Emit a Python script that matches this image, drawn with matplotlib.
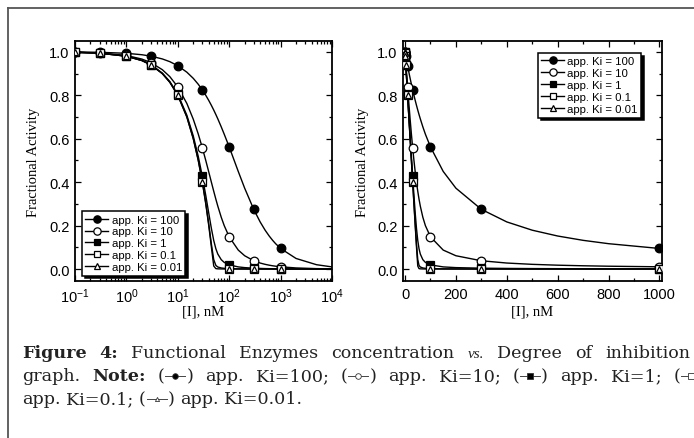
import matplotlib
matplotlib.use("Agg")
import matplotlib.pyplot as plt
from matplotlib.lines import Line2D
from matplotlib.ticker import MultipleLocator, LogLocator, NullFormatter

# ---------------- data ----------------
ki_labels = ["app. Ki = 100", "app. Ki = 10", "app. Ki = 1", "app. Ki = 0.1", "app. Ki = 0.01"]

# measured points
conc = [0.1, 0.3, 1, 3, 10, 30, 100, 300, 1000]
act_ki100 = [1.00, 1.00, 0.993, 0.98, 0.936, 0.825, 0.562, 0.275, 0.095]
act_ki10 = [1.00, 0.995, 0.985, 0.95, 0.84, 0.558, 0.148, 0.038, 0.010]
act_ki1 = [1.00, 0.995, 0.98, 0.941, 0.805, 0.427, 0.019, 0.004, 0.001]
act_ki01 = [1.00, 0.994, 0.98, 0.94, 0.80, 0.403, 0.002, 0.000, 0.000]
act_ki001 = [1.00, 0.994, 0.98, 0.94, 0.80, 0.400, 0.000, 0.000, 0.000]

# fitted curves
curve_conc = [0.1, 0.3, 1, 2, 3, 5, 7, 10, 15, 20, 25, 30, 35, 40, 45, 50, 55, 60,
              70, 80, 100, 150, 200, 300, 400, 500, 600, 700, 800, 1000, 2000, 5000, 10000]
curve_ki100 = [0.9993, 0.998, 0.9934, 0.9868, 0.9803, 0.9674, 0.9548, 0.9362, 0.9064,
               0.8780, 0.8508, 0.8248, 0.8000, 0.7763, 0.7537, 0.7321, 0.7114, 0.6917,
               0.6547, 0.6209, 0.5623, 0.4495, 0.3723, 0.2749, 0.2170, 0.1789, 0.1521,
               0.1322, 0.1168, 0.0948, 0.0487, 0.0200, 0.0099]
curve_ki10 = [0.9983, 0.9950, 0.9834, 0.9668, 0.9504, 0.9179, 0.8858, 0.8385, 0.7624,
              0.6899, 0.6217, 0.5583, 0.5000, 0.4472, 0.4000, 0.3583, 0.3217, 0.2899,
              0.2385, 0.2000, 0.1483, 0.0874, 0.0613, 0.0382, 0.0277, 0.0217, 0.0178,
              0.0151, 0.0131, 0.0104, 0.0051, 0.0020, 0.0010]
curve_ki1 = [0.9980, 0.9941, 0.9804, 0.9608, 0.9413, 0.9022, 0.8632, 0.8049, 0.7082,
             0.6127, 0.5186, 0.4268, 0.3390, 0.2576, 0.1870, 0.1318, 0.0936, 0.0692,
             0.0432, 0.0307, 0.0192, 0.0099, 0.0066, 0.0040, 0.0029, 0.0022, 0.0018,
             0.0015, 0.0013, 0.0011, 0.0005, 0.0002, 0.0001]
curve_ki01 = [0.998, 0.994, 0.980, 0.960, 0.940, 0.900, 0.860, 0.8005, 0.7009,
              0.6013, 0.5020, 0.4030, 0.3046, 0.2076, 0.1153, 0.0437, 0.0168, 0.0095,
              0.0050, 0.0033, 0.0020, 0.0010, 0.0007, 0.0004, 0.0003, 0.0002, 0.0002,
              0.0001, 0.0001, 0.0001, 0.0, 0.0, 0.0]
curve_ki001 = [0.998, 0.994, 0.980, 0.960, 0.940, 0.900, 0.860, 0.800, 0.700,
               0.600, 0.500, 0.400, 0.300, 0.2005, 0.1018, 0.0141, 0.0020, 0.0010,
               0.0005, 0.0003, 0.0002, 0.0001, 0.0001, 0.0, 0.0, 0.0, 0.0,
               0.0, 0.0, 0.0, 0.0, 0.0, 0.0]

log_xticks = [0.1, 1, 10, 100, 1000, 10000]
lin_xticks = [0, 200, 400, 600, 800, 1000]
yticks = [0.0, 0.2, 0.4, 0.6, 0.8, 1.0]

point_sets = [act_ki100, act_ki10, act_ki1, act_ki01, act_ki001]
curve_sets = [curve_ki100, curve_ki10, curve_ki1, curve_ki01, curve_ki001]

# ---------------- styling ----------------
W, H = 694, 439
plt.rcParams["font.family"] = ["Liberation Sans", "DejaVu Sans"]
plt.rcParams["mathtext.default"] = "regular"

fig = plt.figure(figsize=(W / 100, H / 100), dpi=100)
fig.patch.set_facecolor("white")

marker_styles = [
    dict(marker="o", mfc="black", mec="black", ms=6.2),
    dict(marker="o", mfc="white", mec="black", ms=6.2),
    dict(marker="s", mfc="black", mec="black", ms=5.8),
    dict(marker="s", mfc="white", mec="black", ms=5.8),
    dict(marker="^", mfc="white", mec="black", ms=4.6),
]
legend_marker_scale = 0.85


def px_axes(left, top, right, bottom):
    return fig.add_axes([left / W, 1 - bottom / H, (right - left) / W, (bottom - top) / H])


ax1 = px_axes(75, 42, 332, 282)
ax2 = px_axes(403, 42, 662, 282)

handles = []
for st in marker_styles:
    hst = dict(st)
    hst["ms"] = st["ms"] * legend_marker_scale
    handles.append(Line2D([], [], color="black", lw=1.0, mew=0.9, **hst))

for ax in (ax1, ax2):
    for pts, cv, st in zip(point_sets, curve_sets, marker_styles):
        ax.plot(curve_conc, cv, color="black", lw=1.0, zorder=2)
        ax.plot(conc, pts, ls="none", mew=0.9, zorder=3, **st)
    ax.set_ylim(-0.055, 1.05)
    ax.set_yticks(yticks)
    ax.set_yticklabels([f"{v:.1f}" for v in yticks])
    ax.yaxis.set_minor_locator(MultipleLocator(0.1))
    ax.tick_params(which="both", direction="in", top=True, right=True, labelsize=10.5,
                   width=0.9, pad=4)
    ax.tick_params(which="major", length=4)
    ax.tick_params(which="minor", length=2)
    for sp in ax.spines.values():
        sp.set_linewidth(1.3)
    ax.set_ylabel("Fractional Activity", family=["Liberation Serif"], fontsize=10.5)
    ax.set_xlabel("[I], nM", family=["Liberation Serif"], fontsize=10.5)

ax1.set_xscale("log")
ax1.set_xlim(0.1, 10000)
ax1.set_xticks(log_xticks)
ax1.xaxis.set_minor_locator(LogLocator(base=10, subs=range(2, 10), numticks=20))
ax1.xaxis.set_minor_formatter(NullFormatter())

ax2.set_xlim(-8, 1010)
ax2.set_xticks(lin_xticks)
ax2.xaxis.set_minor_locator(MultipleLocator(100))

ax1.yaxis.set_label_coords(-0.135, 0.5)
ax2.yaxis.set_label_coords(-0.13, 0.5)
ax1.xaxis.set_label_coords(0.5, -0.10)
ax2.xaxis.set_label_coords(0.5, -0.10)

leg_kw = dict(handlelength=2.0, handletextpad=0.3, labelspacing=0.17,
              borderpad=0.3, borderaxespad=0, fancybox=False, framealpha=1,
              edgecolor="black", prop={"family": ["Liberation Sans"], "size": 8.2},
              shadow={"color": "black", "alpha": 1})
l1 = ax1.legend(handles=handles, labels=ki_labels, loc="lower left",
                bbox_to_anchor=(0.027, 0.022), **leg_kw)
l2 = ax2.legend(handles=handles, labels=ki_labels, loc="upper right",
                bbox_to_anchor=(0.92, 0.95), **leg_kw)
for l in (l1, l2):
    l.get_frame().set_linewidth(1.1)

# ---------------- outer frame ----------------
fx = 8 / W
fy = 1 - 9 / H
fig.add_artist(Line2D([fx, fx], [0, fy], transform=fig.transFigure, color="#555555", lw=1.3))
fig.add_artist(Line2D([fx, 1], [fy, fy], transform=fig.transFigure, color="#555555", lw=1.3))

# ---------------- caption ----------------
fig.canvas.draw()
renderer = fig.canvas.get_renderer()
CAP_COLOR = "#222222"
SERIF = ["DejaVu Serif"]
base_kw = dict(family=SERIF, fontsize=12.6, color=CAP_COLOR)
bold_kw = dict(base_kw, weight="bold")
ital_kw = dict(family=["Liberation Serif"], fontsize=11, style="italic", color=CAP_COLOR)
SYM_W = 22


def t_width(s, kw):
    t = fig.text(0, 0, s, **kw)
    w = t.get_window_extent(renderer).width
    t.remove()
    return w


def group_width(group):
    w = 0
    for item in group:
        if item[0] == "t":
            w += t_width(item[1], item[2])
        else:
            w += SYM_W
    return w


def draw_group(group, x, base_y):
    for item in group:
        if item[0] == "t":
            fig.text(x / W, 1 - base_y / H, item[1], ha="left", va="baseline", **item[2])
            x += t_width(item[1], item[2])
        else:
            st = item[1]
            ym = 1 - (base_y - 4.5) / H
            fig.add_artist(Line2D([(x + 1) / W, (x + SYM_W - 1) / W], [ym, ym],
                                  transform=fig.transFigure, color="#444444", lw=0.7))
            fig.add_artist(Line2D([(x + SYM_W / 2) / W], [ym], transform=fig.transFigure,
                                  marker=st["marker"], mfc=st["mfc"], mec="#333333",
                                  ms=st["ms"] * 0.65, mew=0.6, ls="none"))
            x += SYM_W
    return x


def draw_line(groups, base_y, x0, x1=None, gap=None):
    widths = [group_width(g) for g in groups]
    if x1 is not None:
        gap = (x1 - x0 - sum(widths)) / (len(groups) - 1)
    x = x0
    for g, w in zip(groups, widths):
        draw_group(g, x, base_y)
        x += w + gap


def T(s, kw=base_kw):
    return ("t", s, kw)


def S(i):
    return ("s", marker_styles[i])


space = t_width("a b", base_kw) - t_width("ab", base_kw)

line1 = [[T("Figure", bold_kw)], [T("4:", bold_kw)], [T("Functional")], [T("Enzymes")],
         [T("concentration")], [T("vs.", ital_kw)], [T("Degree")], [T("of")], [T("inhibition")]]
line2 = [[T("graph.")], [T("Note:", bold_kw)], [T("("), S(0), T(")")], [T("app.")],
         [T("Ki=100;")], [T("("), S(1), T(")")], [T("app.")], [T("Ki=10;")],
         [T("("), S(2), T(")")], [T("app.")], [T("Ki=1;")], [T("("), S(3)]]
line3 = [[T("app.")], [T("Ki=0.1;")], [T("("), S(4), T(")")], [T("app.")], [T("Ki=0.01.")]]

draw_line(line1, 358, 22, 690)
draw_line(line2, 381, 22, 702)
draw_line(line3, 404, 22, gap=space)

fig.savefig("out.png", dpi=100)
